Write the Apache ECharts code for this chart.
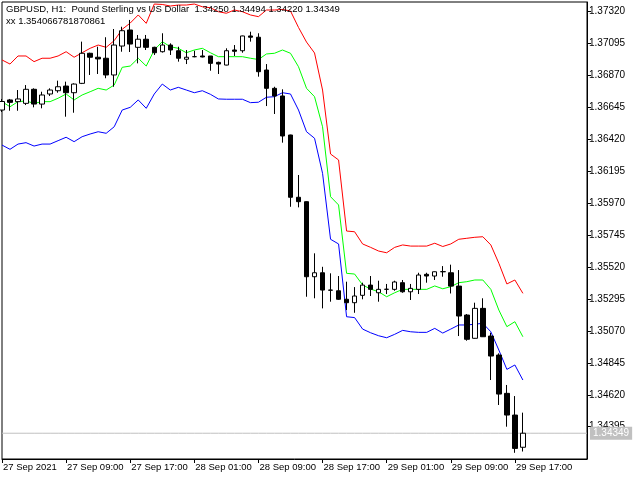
<!DOCTYPE html>
<html>
<head>
<meta charset="utf-8">
<title>GBPUSD H1</title>
<script src="https://cdn.jsdelivr.net/npm/echarts@6/dist/echarts.min.js"></script>
<style>
  html, body { margin: 0; padding: 0; background: #fff; }
  #chart { width: 640px; height: 480px; }
</style>
</head>
<body>
<div id="chart"></div>
<script>
// GBPUSD H1, 27 Sep 01:00 .. 29 Sep 18:00 (66 bars), envelope bands

const tickLabels = [
  "27 Sep 2021", "27 Sep 09:00", "27 Sep 17:00", "28 Sep 01:00", "28 Sep 09:00",
  "28 Sep 17:00", "29 Sep 01:00", "29 Sep 09:00", "29 Sep 17:00"
];

const opens = [
  1.36627, 1.36698, 1.36686, 1.36674, 1.36773, 1.36669, 1.36740, 1.36763, 1.36796, 1.36749,
  1.36815, 1.37027, 1.36999, 1.36992, 1.36874, 1.37078, 1.37191, 1.37069, 1.37126, 1.37069,
  1.37038, 1.37085, 1.37045, 1.36985, 1.37003, 1.37008, 1.37008, 1.36963, 1.36944, 1.37050,
  1.37045, 1.37149, 1.37140, 1.36909, 1.36780, 1.36726, 1.36451, 1.36012, 1.35981, 1.35452,
  1.35480, 1.35358, 1.35353, 1.35293, 1.35269, 1.35321, 1.35393, 1.35339, 1.35363, 1.35363,
  1.35410, 1.35346, 1.35363, 1.35469, 1.35457, 1.35487, 1.35480, 1.35386, 1.35182, 1.35018,
  1.35229, 1.35034, 1.34900, 1.34630, 1.34477, 1.34250
];
const highs = [
  1.36705, 1.36705, 1.36768, 1.36803, 1.36780, 1.36756, 1.36780, 1.36834, 1.36827, 1.36815,
  1.37109, 1.37031, 1.37073, 1.37140, 1.37198, 1.37214, 1.37262, 1.37156, 1.37156, 1.37073,
  1.37168, 1.37097, 1.37073, 1.37050, 1.37045, 1.37050, 1.37008, 1.36968, 1.37062, 1.37085,
  1.37151, 1.37179, 1.37168, 1.36951, 1.36791, 1.36773, 1.36453, 1.36169, 1.35983, 1.35617,
  1.35522, 1.35476, 1.35457, 1.35417, 1.35379, 1.35410, 1.35457, 1.35424, 1.35401, 1.35424,
  1.35429, 1.35401, 1.35480, 1.35480, 1.35489, 1.35527, 1.35537, 1.35499, 1.35189, 1.35269,
  1.35300, 1.35057, 1.34912, 1.34689, 1.34611, 1.34494
];
const lows = [
  1.36613, 1.36622, 1.36622, 1.36662, 1.36646, 1.36639, 1.36726, 1.36749, 1.36580, 1.36608,
  1.36810, 1.36874, 1.36881, 1.36851, 1.36791, 1.37038, 1.37036, 1.36956, 1.37050, 1.37015,
  1.37032, 1.37015, 1.36968, 1.36951, 1.36999, 1.36998, 1.36904, 1.36881, 1.36942, 1.37008,
  1.37031, 1.37109, 1.36862, 1.36655, 1.36599, 1.36397, 1.35945, 1.35941, 1.35311, 1.35300,
  1.35229, 1.35276, 1.35288, 1.35217, 1.35198, 1.35293, 1.35316, 1.35276, 1.35330, 1.35353,
  1.35339, 1.35288, 1.35330, 1.35410, 1.35429, 1.35452, 1.35334, 1.35034, 1.35001, 1.35016,
  1.35027, 1.34724, 1.34548, 1.34395, 1.34211, 1.34220
];
const closes = [
  1.36687, 1.36681, 1.36705, 1.36773, 1.36669, 1.36733, 1.36768, 1.36791, 1.36749, 1.36810,
  1.37027, 1.36999, 1.36987, 1.36874, 1.37085, 1.37186, 1.37092, 1.37126, 1.37069, 1.37031,
  1.37085, 1.37050, 1.36992, 1.36999, 1.37003, 1.37001, 1.36956, 1.36951, 1.37045, 1.37041,
  1.37149, 1.37140, 1.36897, 1.36780, 1.36726, 1.36444, 1.36012, 1.35981, 1.35452, 1.35480,
  1.35358, 1.35357, 1.35293, 1.35269, 1.35316, 1.35393, 1.35363, 1.35363, 1.35364, 1.35415,
  1.35346, 1.35370, 1.35464, 1.35457, 1.35487, 1.35488, 1.35386, 1.35175, 1.35011, 1.35229,
  1.35029, 1.34893, 1.34625, 1.34477, 1.34242, 1.34349
];

// upper / middle / lower envelope lines
const upperBand = [
  1.36980, 1.36951, 1.37008, 1.37008, 1.36968, 1.36992, 1.36992, 1.37008, 1.37038, 1.36999,
  1.37031, 1.37062, 1.37085, 1.37069, 1.37116, 1.37196, 1.37240, 1.37297, 1.37238, 1.37374,
  1.37371, 1.37360, 1.37367, 1.37367, 1.37374, 1.37355, 1.37348, 1.37320, 1.37309, 1.37332,
  1.37320, 1.37297, 1.37285, 1.37332, 1.37332, 1.37336, 1.37325, 1.37209, 1.37106, 1.37029,
  1.36768, 1.36317, 1.36275, 1.35774, 1.35769, 1.35683, 1.35659, 1.35633, 1.35621, 1.35659,
  1.35676, 1.35668, 1.35668, 1.35668, 1.35688, 1.35665, 1.35683, 1.35716, 1.35723, 1.35730,
  1.35734, 1.35676, 1.35547, 1.35401, 1.35429, 1.35335
];
const middleBand = [
  1.36686, 1.36650, 1.36686, 1.36691, 1.36674, 1.36686, 1.36686, 1.36710, 1.36740, 1.36698,
  1.36733, 1.36756, 1.36780, 1.36768, 1.36803, 1.36928, 1.36937, 1.36992, 1.36937, 1.37050,
  1.37109, 1.37073, 1.37062, 1.37031, 1.37050, 1.37062, 1.37031, 1.37003, 1.37003, 1.37003,
  1.37003, 1.36992, 1.36983, 1.37022, 1.37027, 1.37050, 1.37027, 1.36932, 1.36780, 1.36721,
  1.36509, 1.36016, 1.35958, 1.35476, 1.35471, 1.35394, 1.35365, 1.35346, 1.35311, 1.35339,
  1.35363, 1.35363, 1.35363, 1.35363, 1.35387, 1.35367, 1.35382, 1.35410, 1.35417, 1.35429,
  1.35429, 1.35363, 1.35217, 1.35100, 1.35135, 1.35029
];
const lowerBand = [
  1.36380, 1.36350, 1.36387, 1.36397, 1.36373, 1.36387, 1.36387, 1.36411, 1.36435, 1.36404,
  1.36439, 1.36458, 1.36474, 1.36463, 1.36509, 1.36627, 1.36646, 1.36698, 1.36639, 1.36740,
  1.36810, 1.36768, 1.36787, 1.36768, 1.36749, 1.36763, 1.36738, 1.36705, 1.36703, 1.36703,
  1.36703, 1.36679, 1.36682, 1.36717, 1.36721, 1.36749, 1.36740, 1.36627, 1.36474, 1.36428,
  1.36181, 1.35716, 1.35683, 1.35170, 1.35164, 1.35083, 1.35057, 1.35036, 1.35022, 1.35046,
  1.35074, 1.35064, 1.35060, 1.35060, 1.35088, 1.35055, 1.35083, 1.35112, 1.35112, 1.35117,
  1.35124, 1.35064, 1.34935, 1.34799, 1.34830, 1.34724
];

const priceTicks = [
  1.34395, 1.34620, 1.34845, 1.35070, 1.35295, 1.35520, 1.35745,
  1.35970, 1.36195, 1.36420, 1.36645, 1.36870, 1.37095, 1.37320
];

const headerLine = "GBPUSD, H1:  Pound Sterling vs US Dollar  1.34250 1.34494 1.34220 1.34349";
const indicatorLine = "xx 1.354066781870861";

const SLOTS = 74;            // visible bar slots incl. empty space on the right
const TICK_STEP = 8;         // one time label every 8 bars
const FONT = '"Liberation Sans", Arial, sans-serif';
const Y_MIN = 1.341673;
const Y_MAX = 1.373884;

const categories = Array.from({ length: SLOTS }, (_, i) => String(i));
const candleData = opens.map((o, i) => [o, closes[i], lows[i], highs[i]]);
const lastClose = closes[closes.length - 1];
// flat bid line across the whole window
const bidLine = categories.map(() => lastClose);

const showTick = (idx) => idx % TICK_STEP === 0 && idx / TICK_STEP < tickLabels.length;

const chart = echarts.init(document.getElementById("chart"), null, { renderer: "canvas" });

chart.setOption({
  animation: false,
  backgroundColor: "#ffffff",
  textStyle: { fontFamily: FONT, fontSize: 10, color: "#000" },
  grid: {
    left: 2, right: 53, top: 2, bottom: 21,
    show: true, borderColor: "#000", borderWidth: 1, backgroundColor: "transparent"
  },
  xAxis: {
    type: "category",
    data: categories,
    boundaryGap: false,
    axisLine: { show: true, lineStyle: { color: "#000", width: 1 } },
    axisTick: {
      show: true, inside: false, length: 4,
      interval: (idx) => showTick(idx),
      lineStyle: { color: "#000" }
    },
    axisLabel: {
      interval: (idx) => showTick(idx),
      formatter: (v, idx) => tickLabels[idx / TICK_STEP] || "",
      align: "left",
      margin: 3,
      padding: [0, 0, 0, 1],
      fontFamily: FONT, fontSize: 9.5, color: "#000"
    },
    splitLine: { show: false }
  },
  yAxis: [
    {
      type: "value",
      position: "right",
      min: Y_MIN,
      max: Y_MAX,
      axisLine: { show: true, lineStyle: { color: "#000", width: 1 } },
      axisTick: {
        show: true, inside: false, length: 4,
        customValues: priceTicks,
        lineStyle: { color: "#000" }
      },
      axisLabel: {
        customValues: priceTicks,
        formatter: (v) => v.toFixed(5),
        margin: 2,
        fontFamily: FONT, fontSize: 10, color: "#000"
      },
      splitLine: { show: false }
    },
    {
      // price tag of the last bid on the right scale
      type: "value",
      position: "right",
      min: Y_MIN,
      max: Y_MAX,
      z: 10,
      axisLine: { show: false },
      axisTick: { show: false },
      splitLine: { show: false },
      axisLabel: {
        customValues: [lastClose],
        formatter: (v) => v.toFixed(5),
        margin: 3,
        backgroundColor: "#c0c0c0",
        color: "#ffffff",
        padding: [2, 3, 1, 3],
        fontFamily: FONT, fontSize: 10
      }
    }
  ],
  series: [
    {
      name: "bid",
      type: "line",
      data: bidLine,
      symbol: "none",
      silent: true,
      lineStyle: { color: "#c0c0c0", width: 1 },
      z: 1
    },
    {
      name: "upper",
      type: "line",
      data: upperBand,
      symbol: "none",
      lineStyle: { color: "#ff0000", width: 1 },
      z: 3
    },
    {
      name: "middle",
      type: "line",
      data: middleBand,
      symbol: "none",
      lineStyle: { color: "#00ff00", width: 1 },
      z: 3
    },
    {
      name: "lower",
      type: "line",
      data: lowerBand,
      symbol: "none",
      lineStyle: { color: "#0000ff", width: 1 },
      z: 3
    },
    {
      name: "GBPUSD",
      type: "candlestick",
      data: candleData,
      barWidth: 5,
      z: 4,
      itemStyle: {
        color: "#ffffff",
        color0: "#000000",
        borderColor: "#000000",
        borderColor0: "#000000",
        borderWidth: 1
      }
    }
  ],
  graphic: [
    {
      type: "text", left: 6, top: 4, z: 100,
      style: { text: headerLine, fill: "#000", font: '9.5px "Liberation Sans", Arial, sans-serif' }
    },
    {
      type: "text", left: 6, top: 16, z: 100,
      style: { text: indicatorLine, fill: "#000", font: '9.5px "Liberation Sans", Arial, sans-serif' }
    }
  ]
});
</script>
</body>
</html>
